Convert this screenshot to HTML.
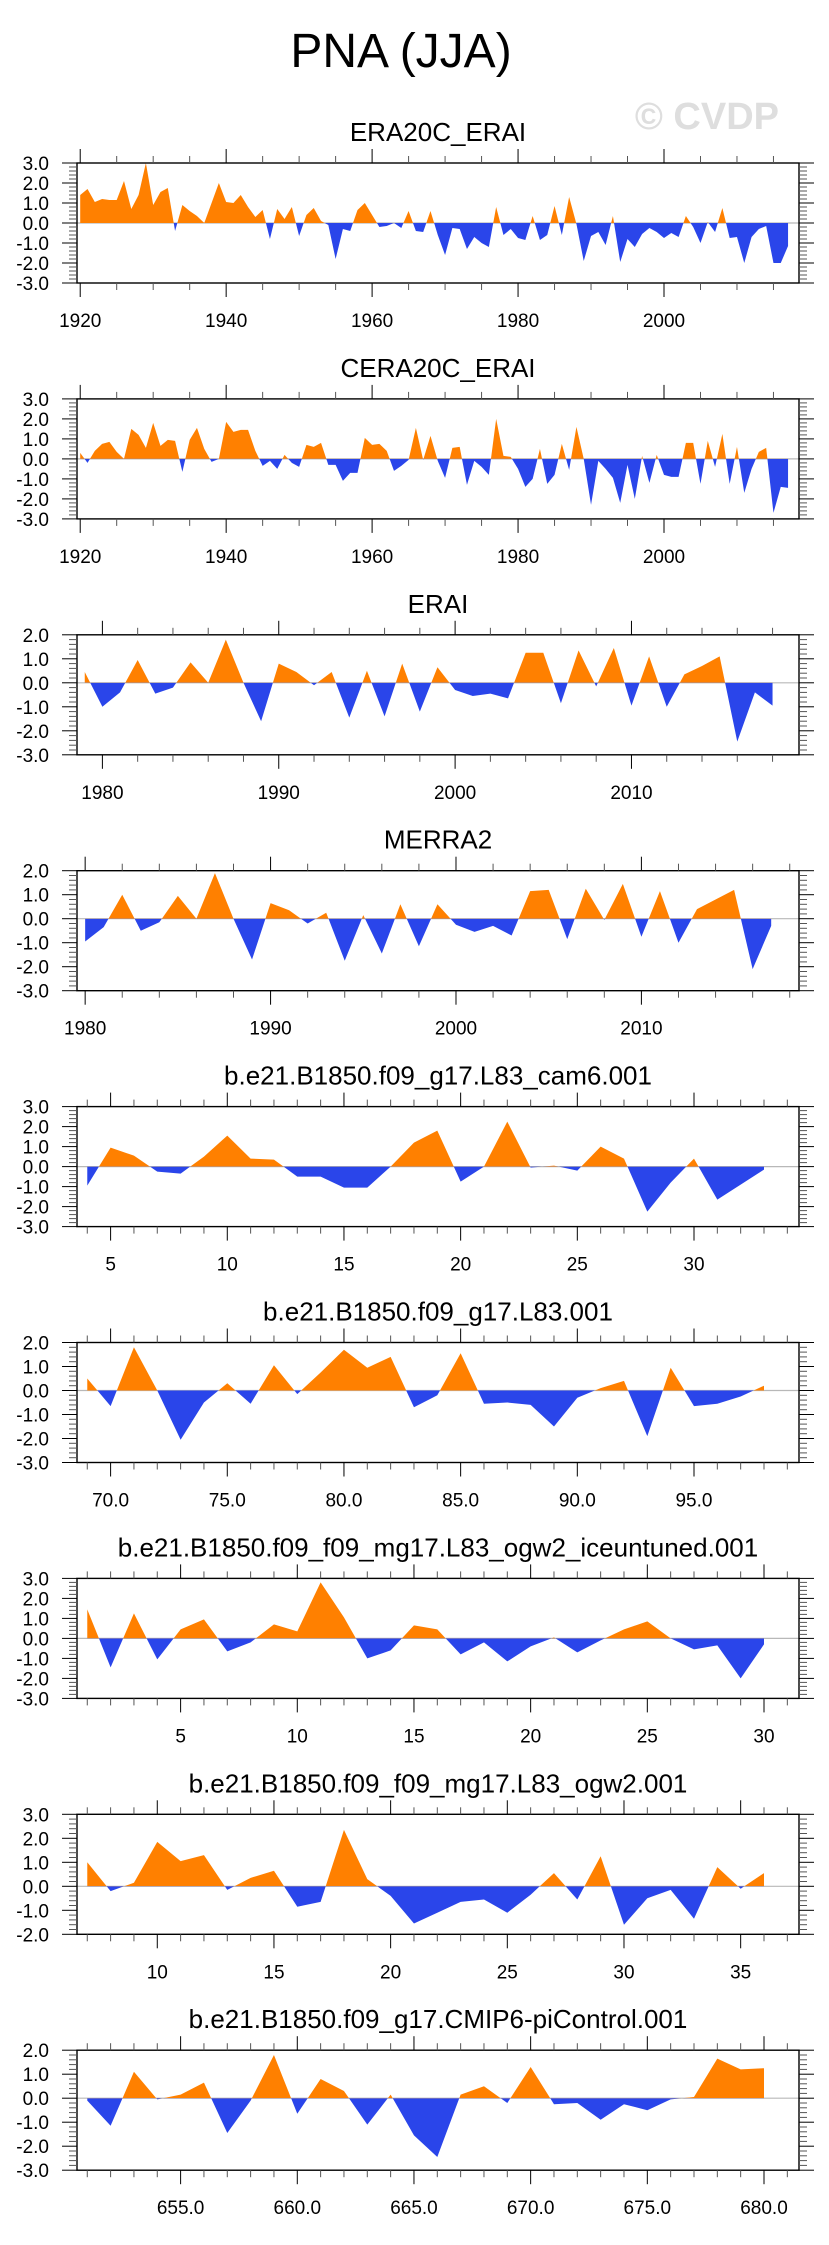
<!DOCTYPE html>
<html><head><meta charset="utf-8"><title>PNA (JJA)</title>
<style>
html,body{margin:0;padding:0;background:#fff;}
svg{display:block;font-family:"Liberation Sans",Arial,sans-serif;}
</style></head>
<body>
<svg id="chart" xmlns="http://www.w3.org/2000/svg" width="829" height="2245" viewBox="0 0 829 2245">
<text x="401" y="67" text-anchor="middle" font-size="48" fill="#000">PNA (JJA)</text>
<text x="779" y="129" text-anchor="end" font-size="38" font-weight="bold" fill="#dedede">© CVDP</text>
</svg>
<script>
// ---------- data ----------
const panelTitles = ["ERA20C_ERAI","CERA20C_ERAI","ERAI","MERRA2",
 "b.e21.B1850.f09_g17.L83_cam6.001","b.e21.B1850.f09_g17.L83.001",
 "b.e21.B1850.f09_f09_mg17.L83_ogw2_iceuntuned.001","b.e21.B1850.f09_f09_mg17.L83_ogw2.001",
 "b.e21.B1850.f09_g17.CMIP6-piControl.001"];
const panelStartX = [1920,1920,1979,1980,4,69,1,7,651];
const panelYMax = [3,3,2,2,3,2,3,3,2];
const panelYMin = [-3,-3,-3,-3,-3,-3,-3,-2,-3];
const panelMajorStep = [20,20,10,10,5,5,5,5,5];
const panelMinorStep = [5,5,2,2,1,1,1,1,1];
const panelLabelDecimals = [0,0,0,0,0,1,0,0,1];

const era20cValues = [1.4,1.7,1.05,1.2,1.15,1.15,2.1,0.7,1.4,3.0,
 0.9,1.55,1.75,-0.4,0.9,0.6,0.35,0.0,1.0,2.0,
 1.05,1.0,1.4,0.8,0.3,0.65,-0.8,0.7,0.2,0.8,
 -0.65,0.4,0.75,0.1,-0.1,-1.8,-0.3,-0.4,0.65,1.0,
 0.4,-0.2,-0.15,0.0,-0.25,0.6,-0.4,-0.45,0.6,-0.6,
 -1.6,-0.25,-0.3,-1.3,-0.7,-1.0,-1.2,0.8,-0.6,-0.3,
 -0.75,-0.85,0.35,-0.85,-0.6,0.85,-0.6,1.3,-0.05,-1.9,
 -0.65,-0.45,-1.1,0.35,-1.95,-0.8,-1.2,-0.55,-0.25,-0.45,
 -0.75,-0.5,-0.7,0.35,-0.2,-1.0,0.05,-0.45,0.75,-0.75,
 -0.7,-2.0,-0.7,-0.3,-0.15,-2.0,-2.0,-1.15];
const cera20cValues = [0.3,-0.2,0.4,0.75,0.85,0.35,0.0,1.5,1.2,0.55,
 1.8,0.65,0.95,0.9,-0.65,0.95,1.55,0.5,-0.15,0.0,
 1.85,1.35,1.45,1.45,0.4,-0.35,-0.1,-0.5,0.2,-0.2,
 -0.4,0.7,0.6,0.8,-0.3,-0.3,-1.1,-0.7,-0.7,1.05,
 0.7,0.75,0.4,-0.6,-0.35,-0.05,1.55,-0.05,1.15,-0.1,
 -0.95,0.55,0.6,-1.3,-0.1,-0.4,-0.8,2.0,0.15,0.1,
 -0.5,-1.4,-1.0,0.5,-1.25,-0.8,0.75,-0.55,1.6,0.0,
 -2.3,-0.1,-0.5,-0.95,-2.2,-0.3,-2.0,0.15,-1.2,0.2,
 -0.8,-0.9,-0.9,0.8,0.8,-1.25,0.9,-0.4,1.25,-1.25,
 0.6,-1.7,-0.5,0.35,0.55,-2.7,-1.4,-1.45];
const eraiValues = [0.45,-1.0,-0.4,0.95,-0.45,-0.2,0.85,0.0,1.8,0.0,
 -1.6,0.8,0.45,-0.1,0.45,-1.45,0.5,-1.4,0.8,-1.2,
 0.65,-0.3,-0.55,-0.45,-0.65,1.25,1.25,-0.85,1.35,-0.15,
 1.45,-0.95,1.1,-1.0,0.35,0.7,1.1,-2.45,-0.4,-0.95];
const merra2Values = [-0.95,-0.35,1.0,-0.5,-0.15,0.95,0.0,1.9,0.0,-1.7,
 0.65,0.35,-0.2,0.25,-1.75,0.15,-1.45,0.6,-1.15,0.6,
 -0.25,-0.55,-0.3,-0.7,1.15,1.2,-0.85,1.25,-0.05,1.45,
 -0.75,1.15,-1.0,0.4,0.8,1.2,-2.1,-0.3];
const cam6Values = [-0.95,0.95,0.55,-0.25,-0.35,0.5,1.55,0.4,0.35,-0.5,
 -0.5,-1.05,-1.05,0.0,1.2,1.8,-0.75,0.0,2.25,-0.05,
 0.05,-0.2,1.0,0.4,-2.25,-0.8,0.4,-1.65,-0.9,-0.15];
const l83Values = [0.5,-0.65,1.8,0.0,-2.05,-0.5,0.3,-0.55,1.05,-0.15,
 0.75,1.7,0.95,1.4,-0.7,-0.2,1.55,-0.55,-0.5,-0.6,
 -1.5,-0.3,0.1,0.4,-1.9,0.95,-0.65,-0.55,-0.25,0.2];
const iceuntunedValues = [1.45,-1.45,1.25,-1.05,0.45,0.95,-0.65,-0.2,0.7,0.35,
 2.8,1.05,-1.0,-0.6,0.65,0.45,-0.8,-0.2,-1.15,-0.4,
 0.05,-0.7,-0.1,0.45,0.85,0.0,-0.55,-0.35,-2.0,-0.3];
const ogw2Values = [1.0,-0.2,0.15,1.85,1.05,1.3,-0.15,0.35,0.65,-0.85,
 -0.65,2.35,0.3,-0.4,-1.55,-1.1,-0.65,-0.55,-1.1,-0.35,
 0.55,-0.55,1.25,-1.6,-0.5,-0.15,-1.35,0.8,-0.1,0.55];
const piControlValues = [-0.1,-1.15,1.1,-0.05,0.15,0.65,-1.45,-0.1,1.8,-0.65,
 0.8,0.3,-1.1,0.15,-1.55,-2.45,0.15,0.5,-0.2,1.3,
 -0.25,-0.2,-0.9,-0.25,-0.5,-0.05,0.05,1.65,1.2,1.25];
const panelValues = [era20cValues,cera20cValues,eraiValues,merra2Values,cam6Values,l83Values,iceuntunedValues,ogw2Values,piControlValues];
const panelNames = ["era20c-erai","cera20c-erai","erai","merra2","cam6-001","l83-001","ogw2-iceuntuned-001","ogw2-001","cmip6-picontrol-001"];

// ---------- drawing ----------
const NS = "http://www.w3.org/2000/svg";
const svg = document.getElementById("chart");
function mk(tag, attrs, parent){
  const e = document.createElementNS(NS, tag);
  for (const k in attrs) e.setAttribute(k, attrs[k]);
  (parent || svg).appendChild(e);
  return e;
}
const ORANGE = "#ff8000", BLUE = "#2a45ea";
const L = 77, R = 799, H = 120;

panelValues.forEach(function(vals, k){
  const top = 163 + k * 235.9, bot = top + H;
  const x0 = panelStartX[k], n = vals.length;
  const xmin = x0 - 0.44, xmax = x0 + n - 1 + 1.5;
  const ymax = panelYMax[k], ymin = panelYMin[k];
  const sx = v => L + (v - xmin) / (xmax - xmin) * (R - L);
  const sy = v => top + (ymax - v) / (ymax - ymin) * H;
  const g = mk("g", {});
  
  

  const title = mk("text", {x: 438, y: top - 22, "text-anchor": "middle", "font-size": 26, fill: "#000"}, g);
  title.textContent = panelTitles[k];
  
  

  // zero line
  const zl = mk("line", {x1: L, x2: R, y1: sy(0), y2: sy(0), stroke: "#b8b8b8", "stroke-width": 1.2}, g);
  
  

  // clip paths
  const defs = mk("defs", {}, g);
  const cpA = mk("clipPath", {id: "above" + k}, defs);
  mk("rect", {x: L, y: top, width: R - L, height: sy(0) - top}, cpA);
  const cpB = mk("clipPath", {id: "below" + k}, defs);
  mk("rect", {x: L, y: sy(0), width: R - L, height: bot - sy(0)}, cpB);

  let d = "M" + sx(x0) + "," + sy(0);
  vals.forEach(function(v, i){ d += " L" + sx(x0 + i) + "," + sy(v); });
  d += " L" + sx(x0 + n - 1) + "," + sy(0) + " Z";
  const pos = mk("path", {d: d, fill: ORANGE, "clip-path": "url(#above" + k + ")"}, g);
  
  
  const neg = mk("path", {d: d, fill: BLUE, "clip-path": "url(#below" + k + ")"}, g);
  
  

  // frame
  const fr = mk("rect", {x: L, y: top, width: R - L, height: H, fill: "none", stroke: "#000", "stroke-width": 1.4}, g);
  
  

  // y ticks
  const steps = Math.round((ymax - ymin) / 0.2);
  for (let s = 0; s <= steps; s++) {
    const v = ymin + s * 0.2, y = sy(v);
    const major = s % 5 === 0;
    const len = major ? 15 : 8;
    mk("line", {x1: L - len, x2: L, y1: y, y2: y, stroke: major ? "#000" : "#555", "stroke-width": 1}, g);
    mk("line", {x1: R, x2: R + len, y1: y, y2: y, stroke: major ? "#000" : "#555", "stroke-width": 1}, g);
    if (major) {
      const t = mk("text", {x: 49, y: y + 7, "text-anchor": "end", "font-size": 19, fill: "#000"}, g);
      t.textContent = v.toFixed(1);
      
      
    }
  }
  // x ticks
  const mi = panelMinorStep[k], ma = panelMajorStep[k];
  for (let v = Math.ceil(xmin / mi) * mi; v <= xmax + 1e-9; v += mi) {
    const x = sx(v);
    const major = Math.abs(v / ma - Math.round(v / ma)) < 1e-9;
    const len = major ? 14 : 7;
    mk("line", {x1: x, x2: x, y1: top - len, y2: top, stroke: major ? "#000" : "#555", "stroke-width": 1}, g);
    mk("line", {x1: x, x2: x, y1: bot, y2: bot + len, stroke: major ? "#000" : "#555", "stroke-width": 1}, g);
    if (major) {
      const t = mk("text", {x: x, y: bot + 44, "text-anchor": "middle", "font-size": 19, fill: "#000"}, g);
      t.textContent = v.toFixed(panelLabelDecimals[k]);
      
      
    }
  }
});
</script>
</body></html>
